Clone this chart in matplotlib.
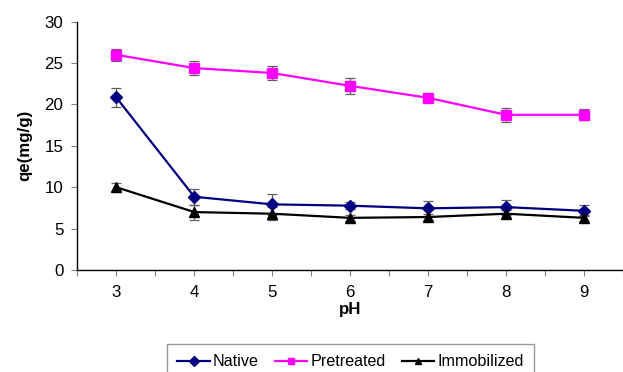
import matplotlib
matplotlib.use("Agg")
import matplotlib.pyplot as plt

plt.rcParams['font.family'] = ['Liberation Sans', 'DejaVu Sans']

ph = [3, 4, 5, 6, 7, 8, 9]
native = [20.85, 8.85, 7.93, 7.77, 7.45, 7.6, 7.15]
native_err = [1.1, 0.95, 1.25, 0.4, 0.9, 0.9, 0.65]
pretreated = [26.0, 24.4, 23.8, 22.25, 20.8, 18.75, 18.75]
pretreated_err = [0.7, 0.9, 0.9, 0.95, 0.3, 0.85, 0.68]
immobilized = [10.0, 7.0, 6.8, 6.3, 6.4, 6.8, 6.3]
immobilized_err = [0.5, 0.9, 0.8, 0.4, 0.4, 0.4, 0.4]
yticks = [0, 5, 10, 15, 20, 25, 30]

W, H = 623, 372
fs = 12.2
lfs = 11.6
fig = plt.figure(figsize=(W / 100, H / 100), dpi=100)
left = 77.3 / W
bottom = (H - 270) / H
top = 1 - 21.7 / H
ax = fig.add_axes([left, bottom, 1 - left, top - bottom])

ecol = '#606060'
series = [
    (native, native_err, '#000080', 'D', 6, 'Native'),
    (pretreated, pretreated_err, '#FF00FF', 's', 7, 'Pretreated'),
    (immobilized, immobilized_err, '#000000', '^', 7.5, 'Immobilized'),
]
handles = []
for vals, errs, col, mk, ms, lab in series:
    ax.errorbar(ph, vals, yerr=errs, fmt='none', ecolor=ecol, elinewidth=0.9,
                capsize=3.5, capthick=0.9, zorder=2)
    h, = ax.plot(ph, vals, color=col, marker=mk, markersize=ms, lw=1.6,
                 markerfacecolor=col, markeredgecolor=col, label=lab, zorder=3)
    handles.append(h)

ax.set_xlim(2.5, 2.5 + (W - 77.3) / 78.9)
ax.set_ylim(0, 30)
ax.set_yticks(yticks)
ax.set_xticks(ph)
ax.set_xticks([x + 0.5 for x in range(2, 10)], minor=True)
ax.set_xticklabels([str(p) for p in ph])
for s in ['top', 'right']:
    ax.spines[s].set_visible(False)
for s in ['left', 'bottom']:
    ax.spines[s].set_linewidth(1.0)
ax.tick_params(axis='both', which='both', direction='out', length=4,
               width=0.8, color='#808080', labelsize=fs)
ax.tick_params(axis='x', which='both', pad=7)
ax.tick_params(axis='y', pad=6)
ax.set_ylabel('qe(mg/g)', fontsize=fs, fontweight='bold', labelpad=9)
ax.set_xlabel('pH', fontsize=fs, fontweight='bold', labelpad=1)

leg = fig.legend(handles=handles, loc='upper left',
                 bbox_to_anchor=(167 / W, 1 - 344 / H), ncol=3,
                 fontsize=lfs, frameon=True, fancybox=False,
                 edgecolor='#808080', handlelength=2.0, handletextpad=0.2,
                 columnspacing=1.0, borderpad=0.65, borderaxespad=0)
leg.get_frame().set_linewidth(1.0)
for lh in leg.legend_handles:
    lh.set_markersize(5)

fig.savefig('out.png', dpi=100)
